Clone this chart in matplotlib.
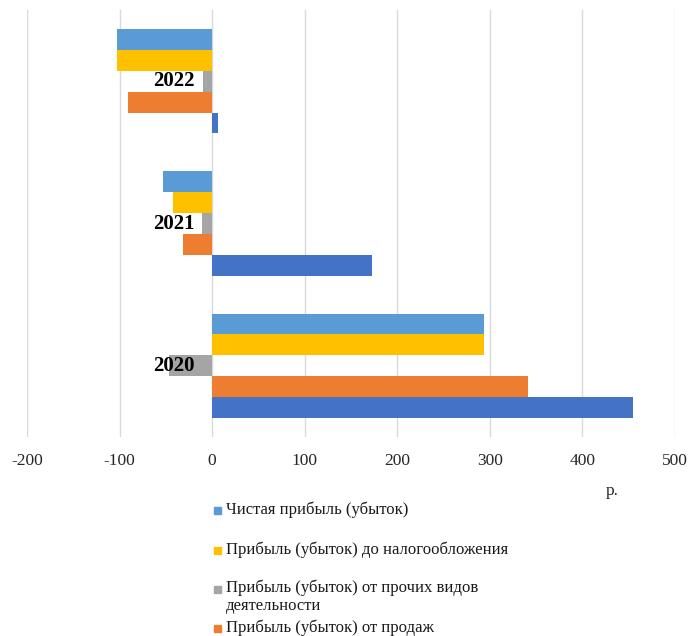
import matplotlib
matplotlib.use("Agg")
import matplotlib.pyplot as plt
from matplotlib.patches import Rectangle
import numpy as np

years = ["2020", "2021", "2022"]
series_names = [
    "Чистая прибыль (убыток)",
    "Прибыль (убыток) до налогообложения",
    "Прибыль (убыток) от прочих видов\nдеятельности",
    "Прибыль (убыток) от продаж",
    "Валовая прибыль (убыток)",
]
net_profit = [294, -53, -103]
pretax_profit = [294, -42, -103]
other_profit = [-47, -11, -10]
sales_profit = [341, -31, -91]
gross_profit = [455, 173, 6]
series_values = [net_profit, pretax_profit, other_profit, sales_profit, gross_profit]
colors = ["#5B9BD5", "#FFC000", "#A5A5A5", "#ED7D31", "#4472C4"]
x_ticks = [-200, -100, 0, 100, 200, 300, 400, 500]
x_unit = "р."

serif = ["Liberation Serif", "DejaVu Serif"]
W, H = 689, 636
fig = plt.figure(figsize=(W / 100, H / 100), dpi=100)
ax = fig.add_axes([27 / W, 1 - 437 / H, (675 - 27) / W, (437 - 10) / H])

y = np.arange(len(years))
bh = 0.147
offsets = [2, 1, 0, -1, -2]
for vals, col, off in zip(series_values, colors, offsets):
    ax.barh(y + off * bh, vals, height=bh, color=col, zorder=2)

ax.set_xlim(-200, 500)
ax.set_ylim(-0.5, 2.5)
ax.set_xticks(x_ticks)
ax.set_xticklabels([str(t) for t in x_ticks], fontfamily=serif, fontsize=12.5)
ax.tick_params(axis="x", length=0, pad=11.5, colors="#262626")
ax.grid(axis="x", color="#D9D9D9", linewidth=1, zorder=0)
ax.set_yticks([])
for s in ax.spines.values():
    s.set_visible(False)

for yi, lab in zip(y, years):
    ax.text(-18 * 700 / 648, yi, lab, ha="right", va="center", fontsize=15,
            fontweight="bold", fontfamily=serif, color="black", zorder=3)

fig.text(612 / W, 1 - 491 / H, x_unit, ha="center", va="center",
         fontfamily=serif, fontsize=12.5, color="#262626")

# legend
leg_y = [510, 550, 589, 628]
for name, col, yp in zip(series_names[:4], colors[:4], leg_y):
    fig.add_artist(Rectangle((214 / W, 1 - (yp + 4) / H), 7 / W, 7 / H,
                             transform=fig.transFigure, color=col))
    if "\n" in name:
        fig.text(226 / W, 1 - (yp - 9) / H, name, ha="left", va="top",
                 fontfamily=serif, fontsize=12, color="#1a1a1a", linespacing=1.15)
    else:
        fig.text(226 / W, 1 - yp / H, name, ha="left", va="center",
                 fontfamily=serif, fontsize=12, color="#1a1a1a")

fig.savefig("out.png", dpi=100)
